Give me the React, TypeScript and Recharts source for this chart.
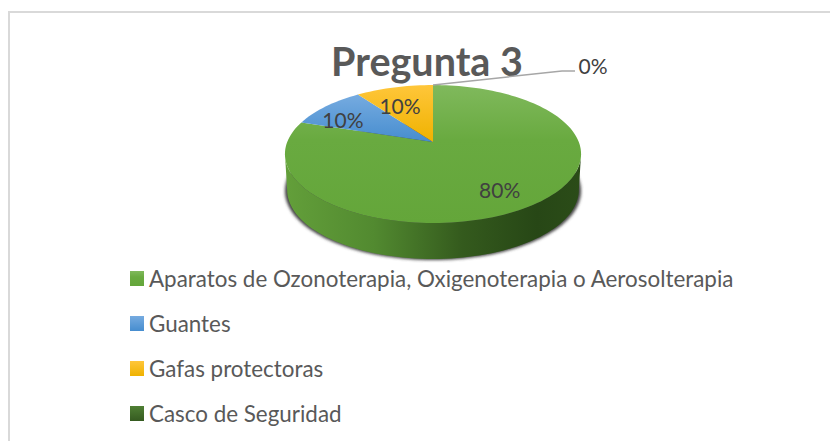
import React from "react";
import { PieChart, Pie, Legend, Customized } from "recharts";

const categories = [
  "Aparatos de Ozonoterapia, Oxigenoterapia o Aerosolterapia",
  "Guantes",
  "Gafas protectoras",
  "Casco de Seguridad",
];
const values = [80, 10, 10, 0];
const percentLabels = ["80%", "10%", "10%", "0%"];
const fills = ["url(#gGreen)", "url(#gBlue)", "url(#gYellow)", "url(#gDark)"];
// label shift from its spot on the pie, px
const labelNudge = [
  [-2, 4],
  [-11, 4],
  [-4, 4],
  [160, -20],
];

const data = categories.map((name, i) => ({ name, value: values[i], fill: fills[i] }));

// apex of the pie on screen
const CX = 433;
const CY = 142;
const PERSP = 0.174;
const SX = 145.8;
const SY = 66.9;
const DEPTH = 36;
const FONT = "Lato, 'Open Sans', sans-serif";

// tilted disc: angle in recharts degrees, r 0..1 -> offset from apex
function project(angle: number, r = 1) {
  const a = (angle * Math.PI) / 180;
  const u = r * Math.cos(a);
  const w = -r * Math.sin(a);
  const d = 1 - PERSP * w;
  return [(SX * u) / d, (SY * w) / d];
}

function arcPoints(from: number, to: number) {
  const n = Math.max(2, Math.ceil(Math.abs(from - to) / 2));
  const pts: number[][] = [];
  for (let i = 0; i <= n; i++) pts.push(project(from + ((to - from) * i) / n));
  return pts;
}

function TopSlice(props: any) {
  const { startAngle, endAngle, fill } = props;
  if (startAngle === endAngle) return <g />;
  const pts = arcPoints(startAngle, endAngle);
  const d =
    `M${CX} ${CY} ` + pts.map((p) => `L${CX + p[0]} ${CY + p[1]}`).join(" ") + " Z";
  return <path d={d} fill={fill} />;
}

// front wall, only the part of the rim that faces us
function WallSlice(props: any) {
  const { startAngle, endAngle, fill } = props;
  const lo = Math.max(Math.min(startAngle, endAngle), -170);
  const hi = Math.min(Math.max(startAngle, endAngle), -10);
  if (hi <= lo) return <g />;
  const pts = arcPoints(hi, lo);
  const top = pts.map((p) => `${CX + p[0]} ${CY + p[1]}`);
  const bottom = pts
    .slice()
    .reverse()
    .map((p) => `${CX + p[0] * 0.985} ${CY + p[1] + DEPTH}`);
  return <path d={`M${top.join(" L")} L${bottom.join(" L")} Z`} fill={fill} />;
}

function ShadowSlice(props: any) {
  const { startAngle, endAngle } = props;
  if (startAngle === endAngle) return <g />;
  const pts = arcPoints(startAngle, endAngle);
  const d =
    `M${CX} ${CY + DEPTH + 1} ` +
    pts.map((p) => `L${CX + p[0]} ${CY + p[1] + DEPTH + 1}`).join(" ") +
    " Z";
  return <path d={d} fill="#444444" filter="url(#blur)" />;
}

function PctLabel(props: any) {
  const { midAngle, index } = props;
  const r = index === 3 ? 1 : 0.72;
  const p = project(midAngle, r);
  return (
    <text
      x={CX + p[0] + labelNudge[index][0]}
      y={CY + p[1] + labelNudge[index][1]}
      textAnchor="middle"
      dominantBaseline="central"
      fontFamily={FONT}
      fontSize={21}
      fill="#404040"
    >
      {percentLabels[index]}
    </text>
  );
}

function Leader(props: any) {
  const { index, midAngle } = props;
  if (index !== 3) return <g />;
  const p = project(midAngle);
  return (
    <polyline
      points={`${CX + p[0]},${CY + p[1]} 562,71 575,71`}
      fill="none"
      stroke="#a6a6a6"
      strokeWidth={1.5}
    />
  );
}

function LegendList() {
  return (
    <div>
      {categories.map((c, i) => (
        <div
          key={c}
          style={{
            position: "absolute",
            left: 130,
            top: 261 + i * 45,
            height: 35,
            display: "flex",
            alignItems: "center",
            whiteSpace: "nowrap",
            fontFamily: FONT,
            fontSize: 22.4,
            color: "#595959",
          }}
        >
          <svg width={14} height={15} style={{ marginRight: 5 }}>
            <rect width={14} height={15} fill={fills[i]} />
          </svg>
          {c}
        </div>
      ))}
    </div>
  );
}

function Defs() {
  return (
    <defs>
      <linearGradient id="gGreen" x1="0" y1="0" x2="0" y2="1">
        <stop offset="0" stopColor="#80b95c" />
        <stop offset="0.4" stopColor="#69aa40" />
        <stop offset="1" stopColor="#64a63a" />
      </linearGradient>
      <linearGradient id="gBlue" x1="0" y1="0" x2="0" y2="1">
        <stop offset="0" stopColor="#76abe0" />
        <stop offset="1" stopColor="#468dcf" />
      </linearGradient>
      <linearGradient id="gYellow" x1="0" y1="0" x2="0" y2="1">
        <stop offset="0" stopColor="#ffc63a" />
        <stop offset="1" stopColor="#efb200" />
      </linearGradient>
      <linearGradient id="gDark" x1="0" y1="0" x2="0" y2="1">
        <stop offset="0" stopColor="#4f7f34" />
        <stop offset="1" stopColor="#355a20" />
      </linearGradient>
      <linearGradient id="gWall" x1="0" y1="0" x2="1" y2="0">
        <stop offset="0" stopColor="#639f3a" />
        <stop offset="0.3" stopColor="#528a30" />
        <stop offset="0.6" stopColor="#345a1d" />
        <stop offset="0.85" stopColor="#274716" />
        <stop offset="1" stopColor="#2b4c18" />
      </linearGradient>
      <filter id="blur" x="-10%" y="-10%" width="120%" height="120%">
        <feGaussianBlur stdDeviation="1.5" />
      </filter>
    </defs>
  );
}

export default function App() {
  return (
    <div style={{ position: "absolute", left: 0, top: 0, width: 830, height: 441, background: "#fff" }}>
      <div
        style={{
          position: "absolute",
          left: 8,
          top: 11,
          width: 822,
          height: 430,
          borderLeft: "2px solid #d9d9d9",
          borderTop: "2px solid #d9d9d9",
        }}
      />
      <PieChart width={830} height={441} style={{ position: "absolute", left: 0, top: 0 }}>
        <Customized component={Defs} />
        <text
          x={427}
          y={60}
          textAnchor="middle"
          dominantBaseline="central"
          fontFamily={FONT}
          fontWeight={700}
          fontSize={39.5}
          fill="#595959"
        >
          Pregunta 3
        </text>
        <Pie
          data={data}
          dataKey="value"
          nameKey="name"
          cx={CX}
          cy={CY}
          outerRadius={100}
          startAngle={90}
          endAngle={-270}
          stroke="none"
          isAnimationActive={false}
          legendType="none"
          shape={ShadowSlice}
        />
        <Pie
          data={data}
          dataKey="value"
          nameKey="name"
          cx={CX}
          cy={CY}
          outerRadius={100}
          startAngle={90}
          endAngle={-270}
          stroke="none"
          isAnimationActive={false}
          legendType="none"
          shape={(p: any) => <WallSlice {...p} fill="url(#gWall)" />}
        />
        <Pie
          data={data}
          dataKey="value"
          nameKey="name"
          cx={CX}
          cy={CY}
          outerRadius={100}
          startAngle={90}
          endAngle={-270}
          stroke="none"
          isAnimationActive={false}
          shape={TopSlice}
          label={PctLabel}
          labelLine={Leader}
        />
        <Legend
          content={<LegendList />}
          wrapperStyle={{ left: 0, top: 0, bottom: "auto", width: 830, height: 0 }}
        />
      </PieChart>
    </div>
  );
}
